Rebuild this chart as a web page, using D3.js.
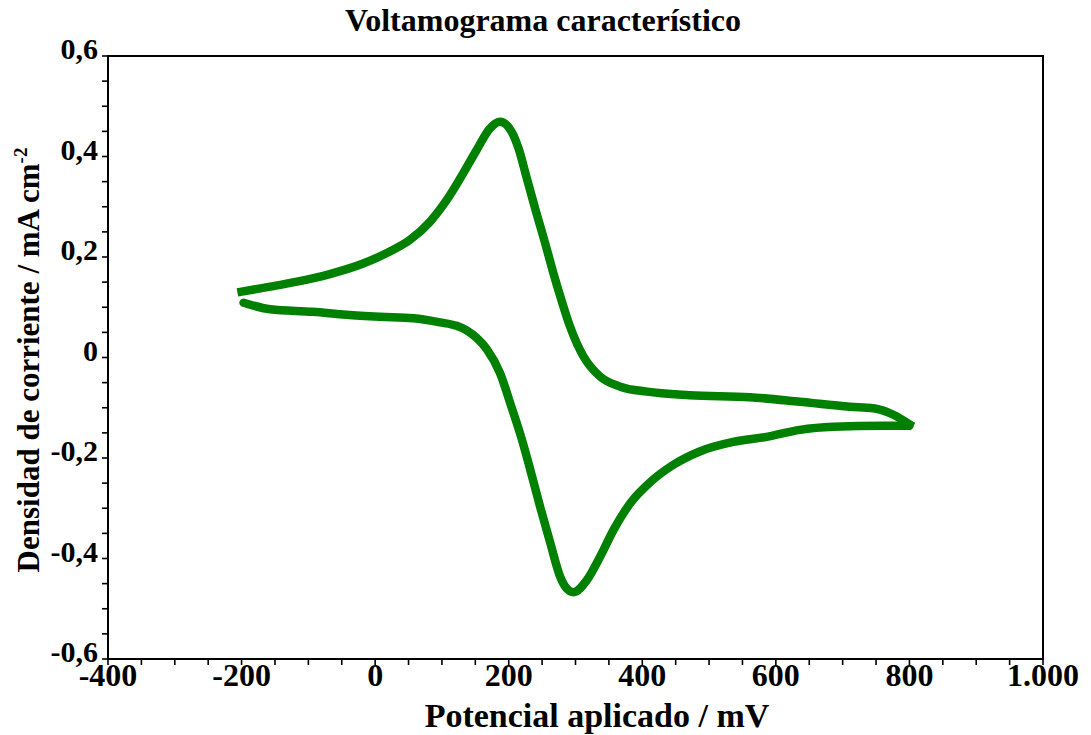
<!DOCTYPE html>
<html>
<head>
<meta charset="utf-8">
<script src="https://cdn.jsdelivr.net/npm/d3@7"></script>
<style>
  html, body { margin: 0; padding: 0; background: #fff; }
  svg { display: block; }
  text { font-family: "Liberation Serif", "Times New Roman", serif; font-weight: bold; fill: #000; }
</style>
</head>
<body>
<svg id="chart" width="1091" height="735"></svg>
<script>
// Cyclic voltammogram: anodic (forward) sweep then cathodic (reverse) sweep
const forwardE = [-200, -157, -117, -68, -18, 22, 52, 82, 107, 132, 152, 172, 187, 204, 215, 226, 241, 254, 266, 279, 292, 312, 337, 367, 407, 471, 561, 636, 711, 746, 776, 800];
const forwardJ = [0.131, 0.141, 0.151, 0.166, 0.187, 0.211, 0.234, 0.270, 0.313, 0.367, 0.413, 0.456, 0.469, 0.450, 0.415, 0.362, 0.290, 0.230, 0.172, 0.114, 0.061, 0.002, -0.038, -0.058, -0.068, -0.075, -0.079, -0.088, -0.098, -0.101, -0.114, -0.133];
const reverseE = [800, 761, 686, 636, 586, 536, 486, 446, 412, 382, 357, 337, 317, 297, 287, 277, 262, 247, 232, 219, 204, 187, 167, 152, 137, 122, 97, 57, 7, -43, -93, -157, -197];
const reverseJ = [-0.136, -0.136, -0.138, -0.144, -0.158, -0.168, -0.187, -0.214, -0.248, -0.290, -0.343, -0.396, -0.443, -0.467, -0.460, -0.436, -0.368, -0.297, -0.222, -0.160, -0.098, -0.031, 0.017, 0.039, 0.054, 0.063, 0.070, 0.078, 0.081, 0.085, 0.091, 0.096, 0.109];

const xTicks = [-400, -200, 0, 200, 400, 600, 800, 1000];
const yTicks = [-0.6, -0.4, -0.2, 0, 0.2, 0.4, 0.6];

const chartTitle = "Voltamograma característico";
const xTitle = "Potencial aplicado / mV";
const yTitle = "Densidad de corriente / mA cm";
const yTitleSup = "-2";

const svg = d3.select("#chart");
const margin = { left: 108, right: 1043, top: 56, bottom: 659 };

const x = d3.scaleLinear().domain([-400, 1000]).range([margin.left, margin.right]);
const y = d3.scaleLinear().domain([-0.6, 0.6]).range([margin.bottom, margin.top]);

const es = d3.formatLocale({ decimal: ",", thousands: ".", grouping: [3], currency: ["", "€"], minus: "-" });
const fmtX = es.format(",d");
const fmtY = d => d === 0 ? "0" : es.format(".1f")(d);

// frame
svg.append("rect")
  .attr("x", margin.left).attr("y", margin.top)
  .attr("width", margin.right - margin.left).attr("height", margin.bottom - margin.top)
  .attr("fill", "none").attr("stroke", "#000").attr("stroke-width", 2);

// x axis ticks (every 50 mV) and labels
const xAxis = svg.append("g").attr("transform", `translate(0,${margin.bottom})`);
xAxis.selectAll("line").data(d3.range(-400, 1001, 50)).join("line")
  .attr("x1", d => x(d)).attr("x2", d => x(d))
  .attr("y1", 0).attr("y2", 6)
  .attr("stroke", "#000").attr("stroke-width", 1.6);
xAxis.selectAll("text").data(xTicks).join("text")
  .attr("x", d => x(d)).attr("y", 27)
  .attr("text-anchor", "middle")
  .style("font-size", "32px")
  .text(fmtX);

// y axis ticks (every 0.05) and labels
const yAxis = svg.append("g").attr("transform", `translate(${margin.left},0)`);
yAxis.selectAll("line").data(d3.range(-12, 13).map(i => i * 0.05)).join("line")
  .attr("x1", -6).attr("x2", 0)
  .attr("y1", d => y(d)).attr("y2", d => y(d))
  .attr("stroke", "#000").attr("stroke-width", 1.6);
yAxis.selectAll("text").data(yTicks).join("text")
  .attr("x", -10).attr("y", d => y(d) + 3)
  .attr("text-anchor", "end")
  .style("font-size", "30px")
  .text(fmtY);

// voltammogram trace, each sweep drawn with x increasing
const line = d3.line()
  .x(d => x(d[0]))
  .y(d => y(d[1]))
  .curve(d3.curveMonotoneX);
const forward = forwardE.map((e, i) => [e, forwardJ[i]]);
const reverse = reverseE.map((e, i) => [e, reverseJ[i]]).reverse();

svg.append("path")
  .datum(reverse)
  .attr("d", line)
  .attr("fill", "none")
  .attr("stroke", "#008000")
  .attr("stroke-width", 8.5)
  .attr("stroke-linejoin", "round")
  .attr("stroke-linecap", "round");
svg.append("path")
  .datum(forward)
  .attr("d", line)
  .attr("fill", "none")
  .attr("stroke", "#008000")
  .attr("stroke-width", 8.5)
  .attr("stroke-linejoin", "round")
  .attr("stroke-linecap", "square");

// titles
svg.append("text")
  .attr("x", 543).attr("y", 31)
  .attr("text-anchor", "middle")
  .style("font-size", "32px")
  .text(chartTitle);

svg.append("text")
  .attr("x", 597).attr("y", 727)
  .attr("text-anchor", "middle")
  .style("font-size", "34px")
  .text(xTitle);

const yt = svg.append("text")
  .attr("transform", `translate(39,360) rotate(-90)`)
  .attr("text-anchor", "middle")
  .style("font-size", "31px");
yt.append("tspan").text(yTitle);
yt.append("tspan").attr("dy", -12).style("font-size", "19px").text(yTitleSup);
</script>
</body>
</html>
